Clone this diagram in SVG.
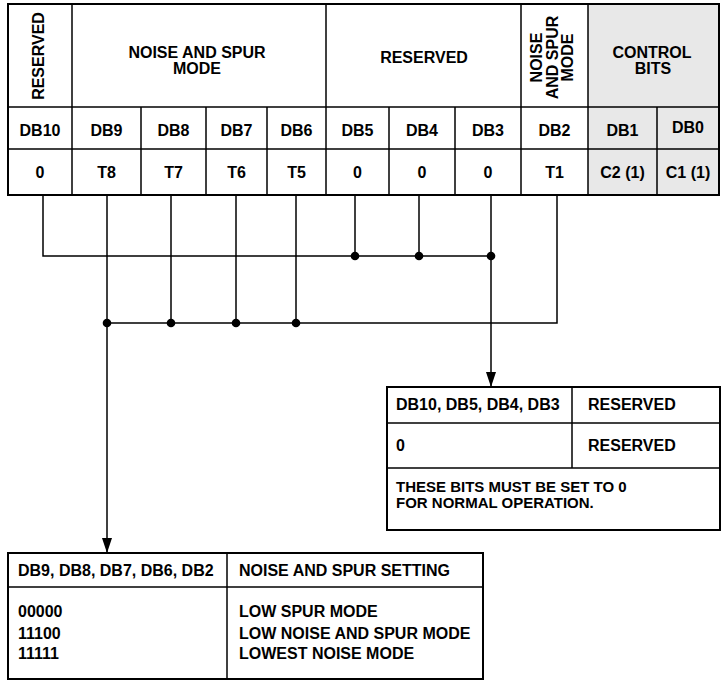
<svg xmlns="http://www.w3.org/2000/svg" width="723" height="682" viewBox="0 0 723 682">
<style>
text{font-family:"Liberation Sans",Arial,Helvetica,sans-serif;font-weight:bold;font-size:16px;fill:#000}
.c{text-anchor:middle}
.s{font-size:15px}
.o{fill:none;stroke:#000;stroke-width:2}
.i{fill:none;stroke:#000;stroke-width:1.5}
.w{fill:none;stroke:#000;stroke-width:1.5}
.g{fill:#e8e8e8}
</style>
<defs>
<marker id="ah" markerWidth="16" markerHeight="10" refX="15" refY="5" orient="auto" markerUnits="userSpaceOnUse" viewBox="0 0 16 10">
<path d="M0,0 L15,5 L0,10 Z" fill="#000"/>
</marker>
</defs>
<g id="register">
<rect class="g" x="588" y="4" width="131" height="191"/>
<rect class="o" x="8" y="4" width="711" height="191"/>
<line class="i" x1="8" y1="107" x2="719" y2="107"/>
<line class="i" x1="8" y1="149" x2="719" y2="149"/>
<line class="i" x1="72" y1="4" x2="72" y2="195"/>
<line class="i" x1="326" y1="4" x2="326" y2="195"/>
<line class="i" x1="521" y1="4" x2="521" y2="195"/>
<line class="i" x1="588" y1="4" x2="588" y2="195"/>
<line class="i" x1="141" y1="107" x2="141" y2="195"/>
<line class="i" x1="206" y1="107" x2="206" y2="195"/>
<line class="i" x1="267" y1="107" x2="267" y2="195"/>
<line class="i" x1="389" y1="107" x2="389" y2="195"/>
<line class="i" x1="455" y1="107" x2="455" y2="195"/>
<line class="i" x1="657" y1="107" x2="657" y2="195"/>
<text class="c" transform="translate(43.5,56) rotate(-90)">RESERVED</text>
<text class="c" x="197" y="58">NOISE AND SPUR</text>
<text class="c" x="197" y="74">MODE</text>
<text class="c" x="424" y="63">RESERVED</text>
<text class="c" transform="translate(542,57.5) rotate(-90)">NOISE</text>
<text class="c" transform="translate(557.5,57.5) rotate(-90)">AND SPUR</text>
<text class="c" transform="translate(573,57.5) rotate(-90)">MODE</text>
<text class="c" x="652" y="58">CONTROL</text>
<text class="c" x="653" y="74">BITS</text>
<text class="c" x="40" y="136">DB10</text>
<text class="c" x="106.5" y="136">DB9</text>
<text class="c" x="173.5" y="136">DB8</text>
<text class="c" x="236.5" y="136">DB7</text>
<text class="c" x="296.5" y="136">DB6</text>
<text class="c" x="357.5" y="136">DB5</text>
<text class="c" x="422" y="136">DB4</text>
<text class="c" x="488" y="136">DB3</text>
<text class="c" x="554.5" y="136">DB2</text>
<text class="c" x="622.5" y="136">DB1</text>
<text class="c" x="688" y="133">DB0</text>
<text class="c" x="40" y="178">0</text>
<text class="c" x="106.5" y="178">T8</text>
<text class="c" x="173.5" y="178">T7</text>
<text class="c" x="236.5" y="178">T6</text>
<text class="c" x="296.5" y="178">T5</text>
<text class="c" x="357.5" y="178">0</text>
<text class="c" x="422" y="178">0</text>
<text class="c" x="488" y="178">0</text>
<text class="c" x="554.5" y="178">T1</text>
<text class="c" x="622.5" y="178">C2 (1)</text>
<text class="c" x="688" y="178">C1 (1)</text>
</g>
<g id="connectors">
<polyline class="w" points="43,195 43,256 491,256"/>
<line class="w" x1="355" y1="195" x2="355" y2="256"/>
<line class="w" x1="419" y1="195" x2="419" y2="256"/>
<line class="w" x1="491" y1="195" x2="491" y2="387" marker-end="url(#ah)"/>
<polyline class="w" points="557,195 557,323 107,323"/>
<line class="w" x1="171" y1="195" x2="171" y2="323"/>
<line class="w" x1="236" y1="195" x2="236" y2="323"/>
<line class="w" x1="296" y1="195" x2="296" y2="323"/>
<line class="w" x1="107" y1="195" x2="107" y2="553" marker-end="url(#ah)"/>
<circle cx="355" cy="256" r="4.3"/>
<circle cx="419" cy="256" r="4.3"/>
<circle cx="491" cy="256" r="4.3"/>
<circle cx="107" cy="323" r="4.3"/>
<circle cx="171" cy="323" r="4.3"/>
<circle cx="236" cy="323" r="4.3"/>
<circle cx="296" cy="323" r="4.3"/>
</g>
<g id="reserved-table">
<rect class="o" x="387" y="387" width="333" height="143"/>
<line class="i" x1="387" y1="423" x2="720" y2="423"/>
<line class="i" x1="387" y1="468" x2="720" y2="468"/>
<line class="i" x1="572" y1="387" x2="572" y2="468"/>
<text x="396" y="410">DB10, DB5, DB4, DB3</text>
<text x="588" y="410">RESERVED</text>
<text x="396" y="451">0</text>
<text x="588" y="451">RESERVED</text>
<text class="s" x="396" y="492">THESE BITS MUST BE SET TO 0</text>
<text class="s" x="396" y="508">FOR NORMAL OPERATION.</text>
</g>
<g id="noise-table">
<rect class="o" x="8" y="553" width="475" height="126"/>
<line class="i" x1="8" y1="587" x2="483" y2="587"/>
<line class="i" x1="227" y1="553" x2="227" y2="679"/>
<text x="18" y="576">DB9, DB8, DB7, DB6, DB2</text>
<text x="239" y="576">NOISE AND SPUR SETTING</text>
<text x="18" y="617">00000</text>
<text x="18" y="639">11100</text>
<text x="18" y="659">11111</text>
<text x="239" y="617">LOW SPUR MODE</text>
<text x="239" y="639">LOW NOISE AND SPUR MODE</text>
<text x="239" y="659">LOWEST NOISE MODE</text>
</g>
</svg>
